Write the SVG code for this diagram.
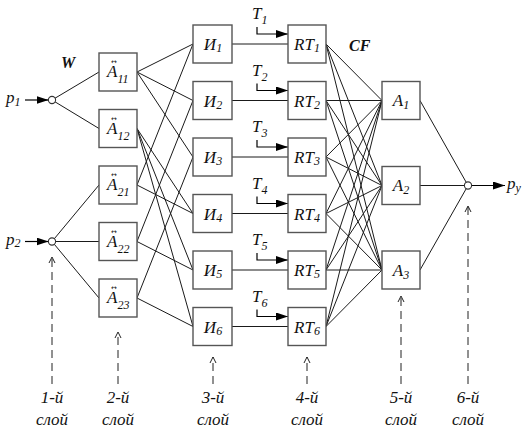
<svg xmlns="http://www.w3.org/2000/svg" width="532" height="434" viewBox="0 0 532 434">
<defs>
<marker id="ah" viewBox="0 0 12 8" refX="12" refY="4" markerWidth="12" markerHeight="8" markerUnits="userSpaceOnUse" orient="auto"><path d="M0,0 L12,4 L0,8 Z" fill="#000"/></marker>
<marker id="oh" viewBox="0 0 8 8" refX="7" refY="4" markerWidth="8" markerHeight="8" markerUnits="userSpaceOnUse" orient="auto"><path d="M1,1 L7,4 L1,7" fill="none" stroke="#222" stroke-width="1"/></marker>
</defs>
<style>
.box{fill:#fff;stroke:#555;stroke-width:1.4}
.ln{stroke:#1a1a1a;stroke-width:1;fill:none}
.ar{stroke:#000;stroke-width:1.2;fill:none;marker-end:url(#ah)}
.da{stroke:#222;stroke-width:1;fill:none;stroke-dasharray:8 5;marker-end:url(#oh)}
.cir{fill:#fff;stroke:#333;stroke-width:1.1}
.t{font-family:'Liberation Serif','DejaVu Serif',serif;font-style:italic;fill:#111}
.lb{font-size:17px}
.sb{font-size:12px}
.bd{font-weight:bold;font-size:16px}
.acc{font-family:'DejaVu Sans',sans-serif;font-style:normal;font-size:7px}
.ly{font-size:17px;text-anchor:middle}
</style>
<g id="connectors">
<path class="ar" d="M25,100 H48.5"/>
<path class="ar" d="M25,241.5 H48.5"/>
<path class="ln" d="M52,100 L99,72 M52,100 L99,128.5"/>
<path class="ln" d="M52,241.5 L99,185 M52,241.5 L99,241.5 M52,241.5 L99,298"/>
<path class="ln" d="M137,72 L193,44 M137,72 L193,100.5 M137,72 L193,157"/>
<path class="ln" d="M137,128.5 L193,213.5 M137,128.5 L193,270 M137,128.5 L193,326.5"/>
<path class="ln" d="M137,185 L193,44 M137,185 L193,213.5"/>
<path class="ln" d="M137,241.5 L193,100.5 M137,241.5 L193,270"/>
<path class="ln" d="M137,298 L193,157 M137,298 L193,326.5"/>
<path class="ln" d="M232,44 H288 M232,100.5 H288 M232,157 H288 M232,213.5 H288 M232,270 H288 M232,326.5 H288"/>
<path class="ar" d="M257,27 V34 H288"/>
<path class="ar" d="M257,83.5 V90.5 H288"/>
<path class="ar" d="M257,140 V147 H288"/>
<path class="ar" d="M257,196.5 V203.5 H288"/>
<path class="ar" d="M257,253 V260 H288"/>
<path class="ar" d="M257,309.5 V316.5 H288"/>
<path class="ln" d="M326,44 L382,100.5 M326,44 L382,185.5 M326,44 L382,270"/>
<path class="ln" d="M326,100.5 L382,100.5 M326,100.5 L382,185.5 M326,100.5 L382,270"/>
<path class="ln" d="M326,157 L382,100.5 M326,157 L382,185.5 M326,157 L382,270"/>
<path class="ln" d="M326,213.5 L382,100.5 M326,213.5 L382,185.5 M326,213.5 L382,270"/>
<path class="ln" d="M326,270 L382,100.5 M326,270 L382,185.5 M326,270 L382,270"/>
<path class="ln" d="M326,326.5 L382,100.5 M326,326.5 L382,185.5 M326,326.5 L382,270"/>
<path class="ln" d="M420,100.5 L468,185.5 M420,185.5 L468,185.5 M420,270 L468,185.5"/>
<path class="ar" d="M471.5,185.5 H505"/>
<path class="da" d="M52,384 V257"/>
<path class="da" d="M118,384 V332"/>
<path class="da" d="M213,384 V357"/>
<path class="da" d="M307,384 V357"/>
<path class="da" d="M401,384 V296"/>
<path class="da" d="M468,384 V206"/>
</g>
<g id="in1"><circle class="cir" cx="52" cy="100" r="3.6"/></g>
<g id="in2"><circle class="cir" cx="52" cy="241.5" r="3.6"/></g>
<g id="out"><circle class="cir" cx="468" cy="185.5" r="3.6"/></g>
<g id="A11"><rect class="box" x="99" y="53" width="38" height="38"/><text class="t lb" x="107" y="77">A<tspan class="acc" x="111" y="64">↔</tspan><tspan class="sb" x="117.5" y="83">11</tspan></text></g>
<g id="A12"><rect class="box" x="99" y="109.5" width="38" height="38"/><text class="t lb" x="107" y="133.5">A<tspan class="acc" x="111" y="120.5">↔</tspan><tspan class="sb" x="117.5" y="139.5">12</tspan></text></g>
<g id="A21"><rect class="box" x="99" y="166" width="38" height="38"/><text class="t lb" x="107" y="190">A<tspan class="acc" x="111" y="177">↔</tspan><tspan class="sb" x="117.5" y="196">21</tspan></text></g>
<g id="A22"><rect class="box" x="99" y="222.5" width="38" height="38"/><text class="t lb" x="107" y="246.5">A<tspan class="acc" x="111" y="233.5">↔</tspan><tspan class="sb" x="117.5" y="252.5">22</tspan></text></g>
<g id="A23"><rect class="box" x="99" y="279" width="38" height="38"/><text class="t lb" x="107" y="303">A<tspan class="acc" x="111" y="290">↔</tspan><tspan class="sb" x="117.5" y="309">23</tspan></text></g>
<g id="I1"><rect class="box" x="193" y="25" width="39" height="38"/><text class="t lb" x="213" y="50" text-anchor="middle">И<tspan class="sb" dy="2">1</tspan></text></g>
<g id="I2"><rect class="box" x="193" y="81.5" width="39" height="38"/><text class="t lb" x="213" y="106.5" text-anchor="middle">И<tspan class="sb" dy="2">2</tspan></text></g>
<g id="I3"><rect class="box" x="193" y="138" width="39" height="38"/><text class="t lb" x="213" y="163" text-anchor="middle">И<tspan class="sb" dy="2">3</tspan></text></g>
<g id="I4"><rect class="box" x="193" y="194.5" width="39" height="38"/><text class="t lb" x="213" y="219.5" text-anchor="middle">И<tspan class="sb" dy="2">4</tspan></text></g>
<g id="I5"><rect class="box" x="193" y="251" width="39" height="38"/><text class="t lb" x="213" y="276" text-anchor="middle">И<tspan class="sb" dy="2">5</tspan></text></g>
<g id="I6"><rect class="box" x="193" y="307.5" width="39" height="38"/><text class="t lb" x="213" y="332.5" text-anchor="middle">И<tspan class="sb" dy="2">6</tspan></text></g>
<g id="T1"><text class="t lb" x="252" y="19">T<tspan class="sb" dy="5">1</tspan></text></g>
<g id="T2"><text class="t lb" x="252" y="75.5">T<tspan class="sb" dy="5">2</tspan></text></g>
<g id="T3"><text class="t lb" x="252" y="132">T<tspan class="sb" dy="5">3</tspan></text></g>
<g id="T4"><text class="t lb" x="252" y="188.5">T<tspan class="sb" dy="5">4</tspan></text></g>
<g id="T5"><text class="t lb" x="252" y="245">T<tspan class="sb" dy="5">5</tspan></text></g>
<g id="T6"><text class="t lb" x="252" y="301.5">T<tspan class="sb" dy="5">6</tspan></text></g>
<g id="RT1"><rect class="box" x="288" y="25" width="38" height="38"/><text class="t lb" x="307" y="50" text-anchor="middle">RT<tspan class="sb" dy="2">1</tspan></text></g>
<g id="RT2"><rect class="box" x="288" y="81.5" width="38" height="38"/><text class="t lb" x="307" y="106.5" text-anchor="middle">RT<tspan class="sb" dy="2">2</tspan></text></g>
<g id="RT3"><rect class="box" x="288" y="138" width="38" height="38"/><text class="t lb" x="307" y="163" text-anchor="middle">RT<tspan class="sb" dy="2">3</tspan></text></g>
<g id="RT4"><rect class="box" x="288" y="194.5" width="38" height="38"/><text class="t lb" x="307" y="219.5" text-anchor="middle">RT<tspan class="sb" dy="2">4</tspan></text></g>
<g id="RT5"><rect class="box" x="288" y="251" width="38" height="38"/><text class="t lb" x="307" y="276" text-anchor="middle">RT<tspan class="sb" dy="2">5</tspan></text></g>
<g id="RT6"><rect class="box" x="288" y="307.5" width="38" height="38"/><text class="t lb" x="307" y="332.5" text-anchor="middle">RT<tspan class="sb" dy="2">6</tspan></text></g>
<g id="A1"><rect class="box" x="382" y="81.5" width="38" height="38"/><text class="t lb" x="401" y="106" text-anchor="middle">A<tspan class="sb" dy="3">1</tspan></text></g>
<g id="A2"><rect class="box" x="382" y="166.5" width="38" height="38"/><text class="t lb" x="401" y="191" text-anchor="middle">A<tspan class="sb" dy="3">2</tspan></text></g>
<g id="A3"><rect class="box" x="382" y="251" width="38" height="38"/><text class="t lb" x="401" y="275.5" text-anchor="middle">A<tspan class="sb" dy="3">3</tspan></text></g>
<g id="labels">
<text class="t lb" x="6" y="103">p<tspan class="sb" dy="3">1</tspan></text>
<text class="t lb" x="6" y="244.5">p<tspan class="sb" dy="2">2</tspan></text>
<text class="t lb" x="507" y="188.5">p<tspan class="sb" dy="3">у</tspan></text>
<text class="t bd" x="61" y="68">W</text>
<text class="t bd" x="349" y="51">CF</text>
<text class="t ly" x="52" y="403">1-й</text><text class="t ly" x="52" y="425">слой</text>
<text class="t ly" x="118" y="403">2-й</text><text class="t ly" x="118" y="425">слой</text>
<text class="t ly" x="213" y="403">3-й</text><text class="t ly" x="213" y="425">слой</text>
<text class="t ly" x="307" y="403">4-й</text><text class="t ly" x="307" y="425">слой</text>
<text class="t ly" x="401" y="403">5-й</text><text class="t ly" x="401" y="425">слой</text>
<text class="t ly" x="468" y="403">6-й</text><text class="t ly" x="468" y="425">слой</text>
</g>
</svg>
